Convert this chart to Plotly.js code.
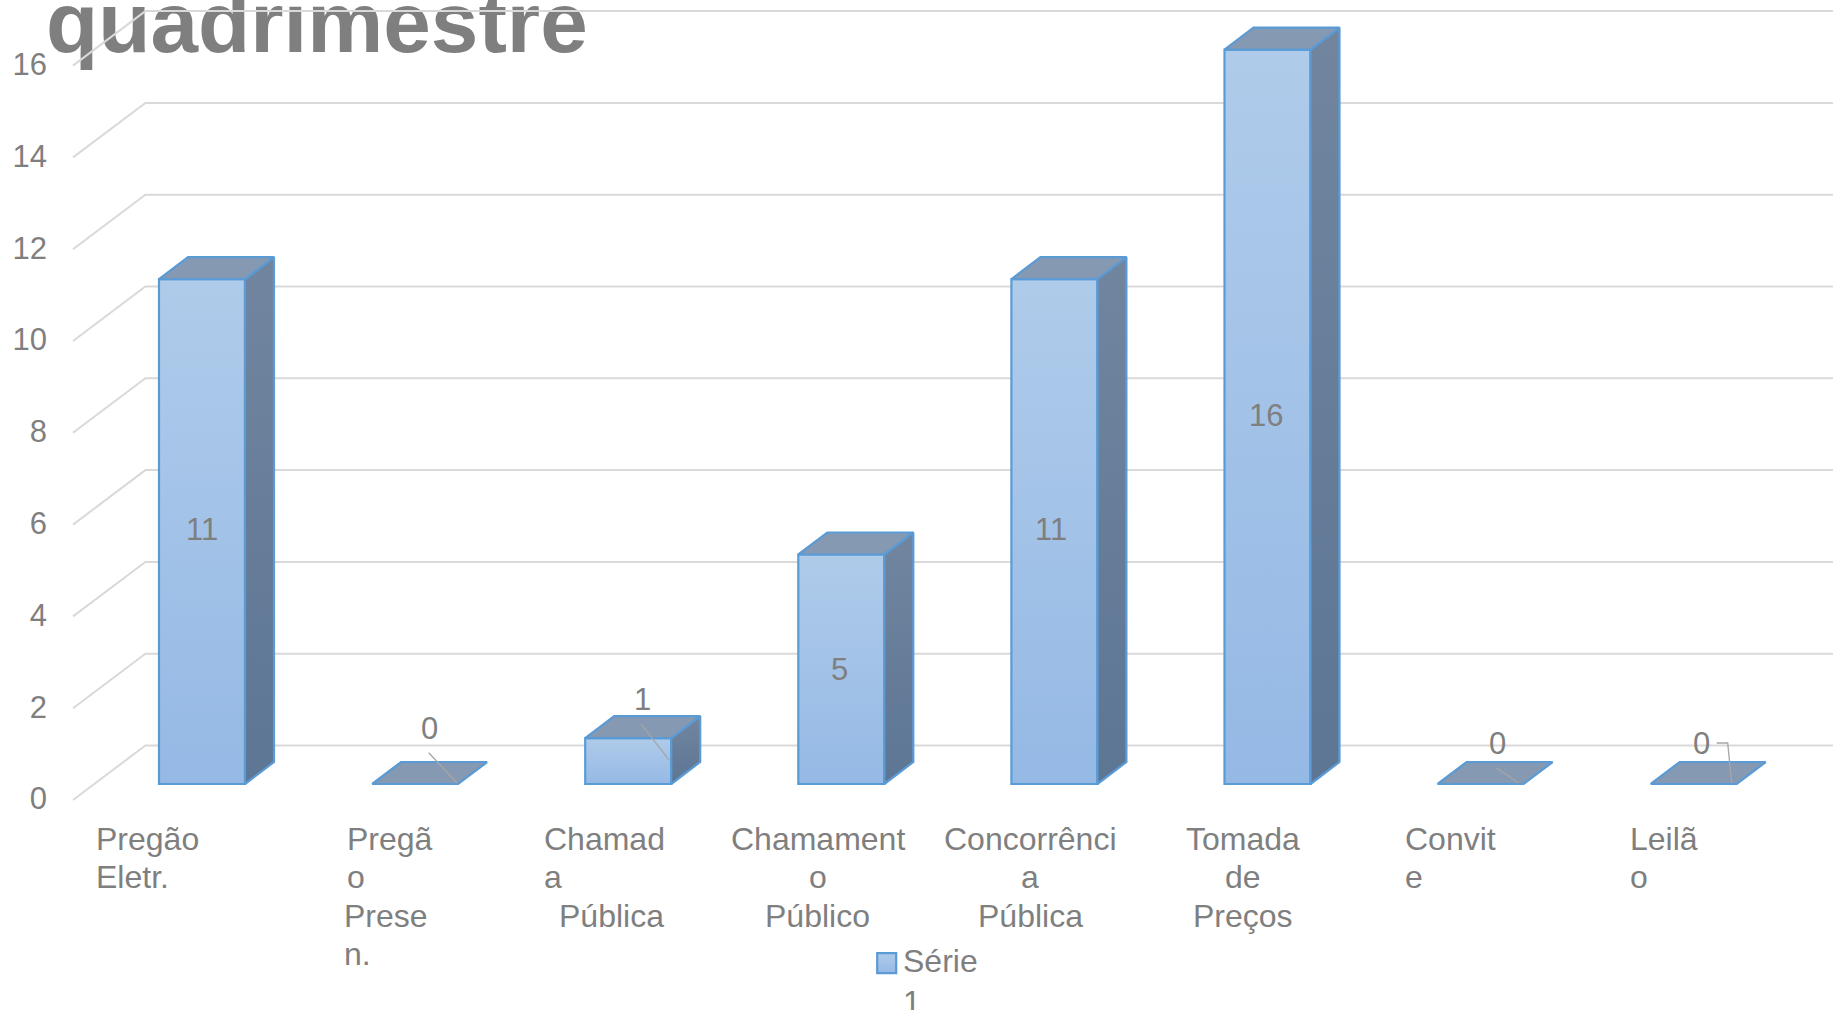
<!DOCTYPE html>
<html lang="pt">
<head>
<meta charset="utf-8">
<script src="https://cdn.plot.ly/plotly-3.0.1.min.js"></script>
<style>html,body{margin:0;padding:0;background:#fff;overflow:hidden}#chart{width:1833px;height:1010px}</style>
</head>
<body>
<div id="chart"></div>
<script>
// ---- data ----
const categoryLines = [
  ['Pregão','Eletr.'],
  ['Pregã','o','Prese','n.'],
  ['Chamad','a','Pública'],
  ['Chamament','o','Público'],
  ['Concorrênci','a','Pública'],
  ['Tomada','de','Preços'],
  ['Convit','e'],
  ['Leilã','o']
];
const values = [11, 0, 1, 5, 11, 16, 0, 0];
const yTicks = [0, 2, 4, 6, 8, 10, 12, 14, 16];
const seriesName = 'Série<br>1';
const titleText = '<b>quadrimestre</b>';

// ---- layout constants (pixels of the page) ----
const W = 1833, H = 1010, ML = 48;
const PX_PER_CAT = 213.1, FIRST_CAT_PX = 202, BASE_PX = 784, PX_PER_UNIT = 45.9;
const xPx = p => (p - FIRST_CAT_PX) / PX_PER_CAT;
const xRange = [xPx(ML), xPx(W)];
const yRange = [(BASE_PX - H) / PX_PER_UNIT, BASE_PX / PX_PER_UNIT];
const barW = 86 / PX_PER_CAT, depthX = 29 / PX_PER_CAT, depthY = 22 / PX_PER_UNIT;
const FONT = '"Liberation Sans", Arial, sans-serif', GREY = '#7f7f7f', BLUE = '#5b9bd5';

// back-wall grid offsets
const wallFrontDY = -16 / PX_PER_UNIT, wallBackDY = 38.5 / PX_PER_UNIT;
const wallFrontX = xPx(73), wallBackX = xPx(145.4);

const cats = values.map((_, i) => i);

const gridShapes = yTicks.map(v => ({
  type: 'path', xref: 'x', yref: 'y', layer: 'below',
  path: `M${wallFrontX},${v + wallFrontDY} L${wallBackX},${v + wallBackDY} L${xRange[1]},${v + wallBackDY}`,
  line: {color: '#d9d9d9', width: 2}
}));

// leader lines: pixel offsets from each bar's top-centre
const leaderPaths = {1: 'M13.6,31.3 L42,1', 2: 'M13,14 L41,-22', 6: 'M16,16 L38,1', 7: 'M23,41 L34,41 L38,1'};
const leaderShapes = Object.keys(leaderPaths).map(k => ({
  type: 'path', xref: 'x', yref: 'y', xsizemode: 'pixel', ysizemode: 'pixel',
  xanchor: +k, yanchor: values[k], path: leaderPaths[k], layer: 'above',
  line: {color: '#a6a6a6', width: 1.3}
}));

// front faces
const frontTrace = {
  type: 'bar', x: cats, y: values, width: barW, name: seriesName,
  marker: {color: '#a3c2e8', line: {color: BLUE, width: 2.2}},
  hoverinfo: 'skip', showlegend: true
};

// side and top faces derived from the values
const sideTraces = [], topTraces = [];
values.forEach((v, i) => {
  const xr = i + barW / 2, xl = i - barW / 2;
  if (v > 0) sideTraces.push({
    type: 'scatter', mode: 'lines', showlegend: false, hoverinfo: 'skip',
    x: [xr, xr + depthX, xr + depthX, xr, xr],
    y: [0, depthY, v + depthY, v, 0],
    fill: 'toself',
    fillgradient: {type: 'vertical', colorscale: [[0, '#5c7694'], [1, '#71859f']]},
    line: {color: BLUE, width: 2.2}
  });
  topTraces.push({
    type: 'scatter', mode: 'lines', showlegend: false, hoverinfo: 'skip',
    x: [xl, xr, xr + depthX, xl + depthX, xl],
    y: [v, v, v + depthY, v + depthY, v],
    fill: 'toself', fillcolor: '#8599b3',
    line: {color: BLUE, width: 2.2}
  });
});

// data labels: offsets in pixels from the middle of the bar
const labelOffsets = [[0, 2], [14, 55.5], [14, 61.5], [-1.5, 0], [-3, 2], [-2, 1.5], [17, 40.5], [8, 40.5]];
const valueLabels = values.map((v, i) => ({
  x: i, y: v / 2, xref: 'x', yref: 'y', text: String(v), showarrow: false,
  xanchor: 'center', yanchor: 'middle',
  xshift: labelOffsets[i][0], yshift: labelOffsets[i][1],
  font: {family: FONT, size: 31, color: GREY}
}));

// category labels, line by line, placed as in the original
const lineY = [838.5, 877, 915.5, 954];
const placement = [
  ['left', [94, 94]],
  ['left', [345, 345, 342, 342]],
  ['left', [541.5, 541.5, 556.5]],
  ['center', [817.6, 817.6, 817.6]],
  ['center', [1030, 1030, 1030]],
  ['center', [1243, 1243, 1243]],
  ['left', [1403, 1403]],
  ['left', [1627.5, 1627.5]]
];
const catLabels = [];
categoryLines.forEach((lines, i) => lines.forEach((t, j) => catLabels.push({
  x: xPx(placement[i][1][j]), xref: 'x', y: 1 - lineY[j] / H, yref: 'paper',
  text: t, showarrow: false, xanchor: placement[i][0], yanchor: 'middle',
  font: {family: FONT, size: 32, color: GREY}
})));

const layout = {
  width: W, height: H, paper_bgcolor: '#fff', plot_bgcolor: 'rgba(0,0,0,0)',
  margin: {l: ML, r: 0, t: 0, b: 0, pad: 0, autoexpand: false}, autosize: false,
  bargap: 0,
  font: {family: FONT, color: GREY},
  title: {text: titleText, x: 46 / W, xanchor: 'left', xref: 'container', y: 1 - 22 / H, yref: 'container', yanchor: 'middle',
          font: {family: FONT, size: 85.5, color: GREY}},
  xaxis: {range: xRange, visible: false, fixedrange: true},
  yaxis: {range: yRange, fixedrange: true, showgrid: false, zeroline: false, showline: false,
          tickmode: 'array', tickvals: yTicks.map(v => v + wallFrontDY + 1.5 / PX_PER_UNIT), ticktext: yTicks.map(String),
          ticks: '', tickfont: {family: FONT, size: 31, color: GREY}},
  shapes: gridShapes.concat(leaderShapes),
  annotations: valueLabels.concat(catLabels),
  showlegend: true,
  legend: {x: (863 - ML) / (W - ML), xref: 'paper', xanchor: 'left', y: 1 - 932 / H, yanchor: 'top',
           bgcolor: 'rgba(0,0,0,0)', font: {family: FONT, size: 32, color: GREY}, itemsizing: 'trace', traceorder: 'normal'}
};

const gd = document.getElementById('chart');
Plotly.newPlot(gd, [frontTrace].concat(sideTraces, topTraces), layout, {displayModeBar: false, staticPlot: true}).then(() => {
  // front-face gradient, as in the original
  const svg = gd.querySelector('.main-svg');
  const ns = 'http://www.w3.org/2000/svg';
  let defs = svg.querySelector('defs');
  const g = document.createElementNS(ns, 'linearGradient');
  g.setAttribute('id', 'frontGrad');
  g.setAttribute('x1', '0'); g.setAttribute('y1', '0'); g.setAttribute('x2', '0'); g.setAttribute('y2', '1');
  [['0', '#afcbea'], ['1', '#95b9e5']].forEach(([o, c]) => {
    const s = document.createElementNS(ns, 'stop');
    s.setAttribute('offset', o); s.setAttribute('stop-color', c); g.appendChild(s);
  });
  defs.appendChild(g);
  gd.querySelectorAll('.barlayer .point path').forEach(p => { p.style.fill = 'url(#frontGrad)'; });
  const sw = gd.querySelector('.legend .legendbar path, .legend .legendpoints path');
  if (sw) {
    sw.style.fill = 'url(#frontGrad)';
    // swatch sits beside the first line of the legend text, as in the original
    sw.setAttribute('d', 'M13.2,-7H-5.8V-27H13.2Z');
  }
  // the grid runs over the title in the original
  const t = gd.querySelector('.g-gtitle');
  const cl = gd.querySelector('.cartesianlayer');
  if (t && cl) cl.parentNode.insertBefore(t, cl);
});
</script>
</body>
</html>
